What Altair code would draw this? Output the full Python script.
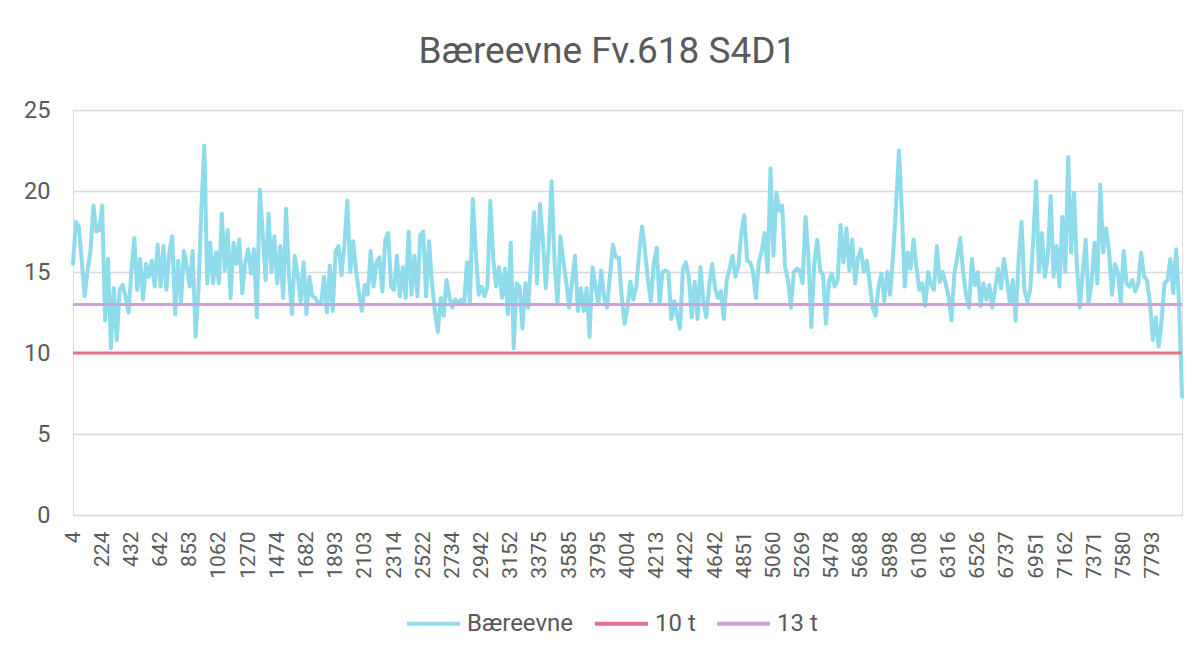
import altair as alt
import pandas as pd

title_text = "Bæreevne Fv.618 S4D1"

# category labels shown on the x axis (every 10th measuring point)
tick_labels = ["4", "224", "432", "642", "853", "1062", "1270", "1474", "1682", "1893",
               "2103", "2314", "2522", "2734", "2942", "3152", "3375", "3585", "3795", "4004",
               "4213", "4422", "4642", "4851", "5060", "5269", "5478", "5688", "5898", "6108",
               "6316", "6526", "6737", "6951", "7162", "7371", "7580", "7793"]
tick_index = list(range(0, 380, 10))

series_names = ["Bæreevne", "10 t", "13 t"]
threshold_values = [10, 13]

baereevne = [
    # 0-49
    15.5, 18.1, 17.8, 15.7, 13.5, 15.1, 16.3, 19.1, 17.5, 17.6,
    19.1, 12.0, 15.8, 10.3, 14.0, 10.8, 13.9, 14.2, 13.5, 12.5,
    15.0, 17.1, 13.9, 15.8, 13.3, 15.5, 14.7, 15.7, 14.1, 16.7,
    14.1, 16.6, 13.9, 16.2, 17.2, 12.4, 15.7, 13.1, 16.3, 15.3,
    14.1, 16.3, 11.0, 13.9, 19.0, 22.8, 14.3, 16.8, 14.3, 16.2,
    # 50-99
    14.3, 18.6, 15.1, 17.6, 13.4, 16.8, 15.5, 17.0, 13.7, 15.6,
    16.4, 14.9, 16.4, 12.2, 20.1, 17.4, 14.5, 18.6, 15.0, 17.2,
    14.3, 16.6, 13.4, 18.9, 14.8, 12.4, 16.0, 14.8, 13.2, 15.6,
    12.4, 14.7, 13.5, 13.4, 13.1, 13.0, 14.7, 12.5, 15.4, 12.6,
    16.3, 16.6, 14.8, 16.7, 19.4, 15.0, 16.9, 15.1, 13.7, 12.6,
    # 100-149
    14.2, 13.6, 16.3, 14.1, 15.6, 15.9, 13.8, 17.0, 17.4, 14.1,
    13.9, 16.0, 13.5, 15.3, 13.4, 17.5, 13.6, 16.0, 13.5, 17.3,
    17.5, 13.5, 16.9, 14.3, 12.6, 11.3, 13.4, 12.3, 14.5, 13.4,
    12.8, 13.3, 13.1, 13.3, 13.0, 15.6, 13.0, 19.5, 16.3, 13.6,
    14.1, 13.5, 14.1, 19.4, 15.8, 14.1, 15.3, 13.4, 15.2, 12.4,
    # 150-199
    16.8, 10.3, 14.3, 14.1, 11.5, 14.3, 12.8, 15.9, 18.7, 14.3,
    19.2, 17.0, 14.0, 16.6, 20.6, 15.6, 13.0, 17.2, 15.7, 14.4,
    12.8, 14.4, 16.0, 12.6, 14.0, 12.6, 14.0, 11.0, 15.3, 14.2,
    13.0, 15.1, 13.4, 12.8, 14.8, 16.7, 15.9, 15.9, 13.5, 11.8,
    12.8, 14.4, 13.3, 14.1, 16.2, 17.8, 16.3, 14.5, 13.2, 15.5,
    # 200-249
    16.5, 13.1, 15.0, 15.1, 15.0, 12.1, 13.2, 12.3, 11.5, 15.2,
    15.6, 14.7, 12.2, 14.4, 12.1, 15.3, 13.2, 12.2, 14.2, 15.5,
    14.0, 13.4, 13.8, 12.1, 14.5, 15.2, 16.0, 14.7, 15.4, 17.4,
    18.5, 15.7, 15.6, 15.0, 13.4, 15.6, 16.3, 17.4, 15.0, 21.4,
    16.0, 19.9, 18.8, 19.1, 15.3, 14.5, 12.8, 15.0, 15.2, 15.1,
    # 250-299
    14.3, 18.4, 15.9, 11.6, 15.5, 17.0, 15.1, 14.8, 11.8, 14.4,
    14.9, 14.1, 14.5, 17.9, 15.6, 17.7, 15.1, 17.0, 14.3, 15.9,
    16.4, 15.0, 15.7, 14.3, 12.8, 12.3, 14.1, 14.9, 13.2, 15.0,
    13.6, 16.0, 19.0, 22.5, 18.8, 14.1, 16.2, 15.2, 17.0, 15.3,
    13.9, 14.3, 12.9, 15.0, 14.2, 13.9, 16.6, 14.4, 15.0, 14.3,
    # 300-349
    13.5, 12.0, 14.9, 15.9, 17.1, 15.0, 13.6, 12.8, 15.8, 14.2,
    15.0, 12.9, 14.3, 13.3, 14.2, 12.8, 14.0, 15.2, 14.0, 15.8,
    14.5, 13.1, 14.5, 12.0, 15.7, 18.1, 13.9, 13.2, 13.9, 16.9,
    20.6, 15.0, 17.4, 14.7, 15.9, 19.7, 14.7, 16.6, 14.1, 18.4,
    15.0, 22.1, 16.2, 19.9, 15.3, 12.8, 15.0, 17.0, 13.1, 14.3,
    # 350-380
    16.8, 14.3, 20.4, 16.2, 17.7, 16.3, 13.6, 15.5, 15.0, 13.1,
    16.3, 14.3, 14.1, 14.5, 13.8, 14.3, 16.2, 14.7, 14.5, 13.1,
    10.8, 12.2, 10.4, 12.0, 14.3, 14.5, 15.8, 13.7, 16.4, 13.0,
    7.3,
]

df_line = pd.DataFrame({
    "idx": list(range(len(baereevne))),
    "value": baereevne,
    "series": series_names[0],
})
df_thr = pd.DataFrame({"series": series_names[1:], "value": threshold_values})

colors = ["#8EDCEB", "#E4728C", "#C9A3D8"]
color_scale = alt.Scale(domain=series_names, range=colors)
grey = "#595959"

label_expr = "[" + ",".join("'" + t + "'" for t in tick_labels) + "][round(datum.value / 10)]"

x_enc = alt.X(
    "idx:Q",
    title="",
    scale=alt.Scale(domain=[0, len(baereevne) - 1], nice=False, zero=False),
    axis=alt.Axis(values=tick_index, labelExpr=label_expr, labelAngle=-90,
                  labelAlign="right", labelBaseline="middle", labelFontSize=21,
                  labelPadding=16, labelColor=grey, labelFont="Roboto",
                  grid=False, domain=False, ticks=False, labelOverlap=False),
)
y_enc = alt.Y(
    "value:Q",
    title="",
    scale=alt.Scale(domain=[0, 25], nice=False),
    axis=alt.Axis(values=[0, 5, 10, 15, 20, 25], labelFontSize=23.5, labelPadding=23,
                  labelColor=grey, labelFont="Roboto", grid=True, gridColor="#D9D9D9",
                  gridWidth=1.5, domain=False, ticks=False),
)
legend = alt.Legend(
    title=None, orient="none", legendX=332, legendY=485, direction="horizontal",
    symbolType="stroke", symbolSize=2809, symbolStrokeWidth=4, labelFontSize=24,
    labelFont="Roboto", labelColor=grey, labelOffset=5, columnPadding=13,
)

line = alt.Chart(df_line).mark_line(strokeWidth=4, strokeJoin="round", strokeCap="round").encode(
    x=x_enc, y=y_enc,
    color=alt.Color("series:N", scale=color_scale, legend=legend),
)
rules = alt.Chart(df_thr).mark_rule(strokeWidth=3).encode(
    y=alt.Y("value:Q", title=""),
    color=alt.Color("series:N", scale=color_scale, legend=legend),
)

chart = alt.layer(line, rules).properties(
    width=1109, height=405,
    title=alt.TitleParams(text=title_text, fontSize=37, font="Roboto", color=grey,
                          fontWeight="normal", anchor="middle", dx=-20, offset=27),
    autosize=alt.AutoSizeParams(type="none"),
    padding={"left": 65, "top": 102, "right": 10, "bottom": 130},
).configure_view(stroke=None).configure(background="white")

chart.save("out.html", embed_options={"renderer": "svg", "actions": False})
